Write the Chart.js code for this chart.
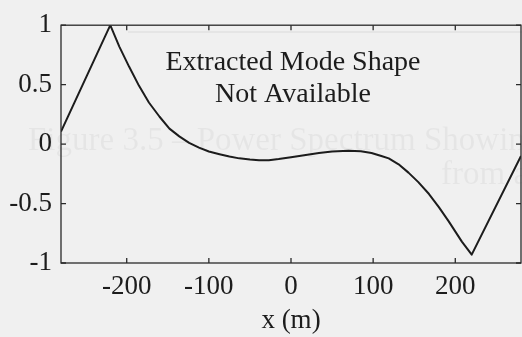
<!DOCTYPE html>
<html>
<head>
<meta charset="utf-8">
<script src="https://cdn.jsdelivr.net/npm/chart.js@4/dist/chart.umd.min.js"></script>
<style>
  html, body { margin: 0; padding: 0; background: #f0f0f0; }
  canvas { display: block; }
</style>
</head>
<body>
<canvas id="mode-chart" width="522" height="337"></canvas>
<script>
// Mode shape along the span, x in metres
const xPositions = [-280, -220, -209, -197, -185, -173, -160, -148, -136, -124, -112, -100, -87, -75, -63, -50, -39, -27, -15, 0, 10, 22, 34, 50, 70, 85, 98, 110, 119, 131, 143, 155, 168, 180, 192, 208, 220, 280];
const modeShape  = [0.105, 1, 0.82, 0.65, 0.49, 0.35, 0.23, 0.13, 0.065, 0.01, -0.03, -0.062, -0.085, -0.105, -0.12, -0.13, -0.135, -0.135, -0.125, -0.11, -0.1, -0.088, -0.075, -0.062, -0.056, -0.06, -0.075, -0.1, -0.12, -0.17, -0.24, -0.32, -0.42, -0.53, -0.65, -0.82, -0.93, -0.1];

const xTicks = [-200, -100, 0, 100, 200];
const yTicks = [-1, -0.5, 0, 0.5, 1];
const noteLines = ['Extracted Mode Shape', 'Not Available'];
const ghostLines = ['Figure 3.5 – Power Spectrum Showing', 'from a'];

const SERIF = '"Liberation Serif", "DejaVu Serif", serif';
const INK = '#1c1c1c';

// page tone, plus the faint print showing through from the back of the sheet
const pagePlugin = {
  id: 'page',
  beforeDraw(chart) {
    const { ctx, width, height } = chart;
    ctx.save();
    ctx.fillStyle = '#f0f0f0';
    ctx.fillRect(0, 0, width, height);
    ctx.fillStyle = 'rgba(0,0,0,0.045)';
    ctx.font = `33px ${SERIF}`;
    ctx.textBaseline = 'alphabetic';
    ctx.fillText(ghostLines[0], 28, 150);
    ctx.fillText(ghostLines[1], 441, 184);
    ctx.fillRect(128, 31, 394, 2);
    ctx.restore();
  },
};

// box round the plot with ticks pointing inwards on all four sides
const framePlugin = {
  id: 'frame',
  afterDraw(chart) {
    const { ctx, chartArea: a, scales } = chart;
    const len = 5;
    ctx.save();
    ctx.strokeStyle = '#2a2a2a';
    ctx.lineWidth = 1.3;
    ctx.strokeRect(a.left, a.top, a.right - a.left, a.bottom - a.top);
    ctx.beginPath();
    xTicks.forEach(v => {
      const px = scales.x.getPixelForValue(v);
      ctx.moveTo(px, a.bottom); ctx.lineTo(px, a.bottom - len);
      ctx.moveTo(px, a.top); ctx.lineTo(px, a.top + len);
    });
    yTicks.forEach(v => {
      const py = scales.y.getPixelForValue(v);
      ctx.moveTo(a.left, py); ctx.lineTo(a.left + len, py);
      ctx.moveTo(a.right, py); ctx.lineTo(a.right - len, py);
    });
    ctx.stroke();

    // note in the upper part of the plot
    ctx.fillStyle = INK;
    ctx.font = `28px ${SERIF}`;
    ctx.textAlign = 'center';
    ctx.textBaseline = 'alphabetic';
    ctx.fillText(noteLines[0], 293, 70);
    ctx.fillText(noteLines[1], 293, 102);
    ctx.restore();
  },
};

new Chart(document.getElementById('mode-chart'), {
  type: 'line',
  data: {
    labels: xPositions,
    datasets: [{
      data: xPositions.map((x, i) => ({ x, y: modeShape[i] })),
      borderColor: INK,
      borderWidth: 2,
      borderJoinStyle: 'round',
      pointRadius: 0,
      tension: 0,
      fill: false,
    }],
  },
  options: {
    responsive: false,
    animation: false,
    layout: { padding: { top: 15, right: 1, bottom: 0, left: 0 } },
    plugins: {
      legend: { display: false },
      tooltip: { enabled: false },
    },
    scales: {
      x: {
        type: 'linear',
        min: -280,
        max: 280,
        afterBuildTicks: s => { s.ticks = xTicks.map(value => ({ value })); },
        afterFit: s => { s.height = 74; },
        grid: { display: false, drawTicks: false },
        border: { display: false },
        ticks: {
          color: INK,
          padding: 8,
          maxRotation: 0,
          font: { family: SERIF, size: 27 },
          callback: v => String(v),
        },
        title: {
          display: true,
          text: 'x (m)',
          color: INK,
          padding: { top: 0, bottom: 0 },
          font: { family: SERIF, size: 27 },
        },
      },
      y: {
        min: -1,
        max: 1,
        afterBuildTicks: s => { s.ticks = yTicks.map(value => ({ value })); },
        afterFit: s => { s.width = 61; },
        grid: { display: false, drawTicks: false },
        border: { display: false },
        ticks: {
          color: INK,
          padding: 9,
          font: { family: SERIF, size: 27 },
          callback: v => String(v),
        },
      },
    },
  },
  plugins: [pagePlugin, framePlugin],
});
</script>
</body>
</html>
